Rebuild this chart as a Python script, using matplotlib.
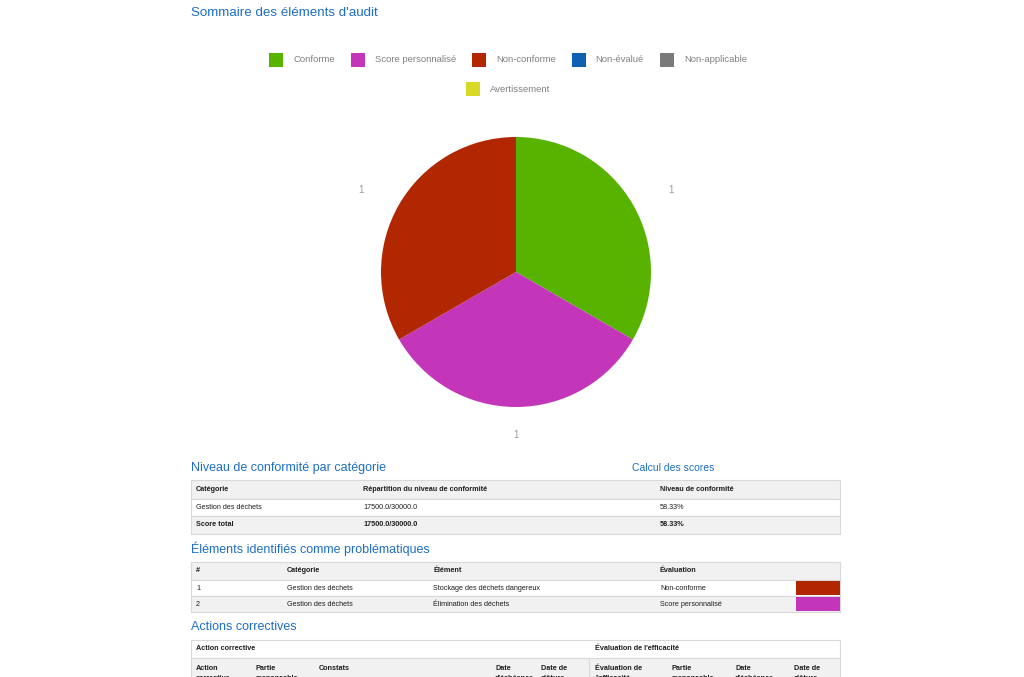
import numpy as np
import matplotlib
matplotlib.use('Agg')
import matplotlib.pyplot as plt
from matplotlib.patches import Rectangle

# --- data ---
legend_labels = ['Conforme', 'Score personnalisé', 'Non-conforme',
                 'Non-évalué', 'Non-applicable', 'Avertissement']
legend_colors = ['#57b300', '#c436b9', '#b12700', '#0f62b1', '#7a7a7a', '#d7d926']
pie_values = [1, 1, 1, 0, 0, 0]

cat_headers = ['Catégorie', 'Répartition du niveau de conformité', 'Niveau de conformité']
cat_rows = [['Gestion des déchets', '17500.0/30000.0', '58.33%']]
cat_total = ['Score total', '17500.0/30000.0', '58.33%']

issue_headers = ['#', 'Catégorie', 'Élément', 'Évaluation']
issue_rows = [
    ['1', 'Gestion des déchets', 'Stockage des déchets dangereux', 'Non-conforme'],
    ['2', 'Gestion des déchets', 'Élimination des déchets', 'Score personnalisé'],
]

action_groups = ['Action corrective', "Évaluation de l'efficacité"]
action_columns = ['Action\ncorrective', 'Partie\nresponsable', 'Constats', "Date\nd'échéance",
                  'Date de\nclôture', "Évaluation de\nl'efficacité", 'Partie\nresponsable',
                  "Date\nd'échéance", 'Date de\nclôture']

# --- styles ---
BLUE = '#1d6ec6'
BORDER = '#d9d9d9'
HEAD_BG = '#f1f1f1'
TXT = '#1e1e1e'
SANS = ['Liberation Sans', 'DejaVu Sans']
TS = 5.2  # table text size

W, H = 1024, 677
fig = plt.figure(figsize=(W / 100, H / 100), dpi=100)
fig.patch.set_facecolor('white')
ax = fig.add_axes([0, 0, 1, 1])
ax.set_xlim(0, W)
ax.set_ylim(H, 0)
ax.axis('off')

ax.text(191, 13, 'Sommaire des éléments d\'audit', color=BLUE, fontsize=9.6,
        family=SANS, va='center', ha='left')

# --- legend (two centred rows, like the web chart) ---
fig.canvas.draw()
renderer = fig.canvas.get_renderer()


def text_width(s, size, family):
    t = ax.text(0, 0, s, fontsize=size, family=family)
    bb = t.get_window_extent(renderer)
    t.remove()
    return bb.width


rows = [list(range(5)), [5]]
sq, gap_txt, gap_item = 14, 10, 16
for r, idxs in enumerate(rows):
    y = 60 + r * 29
    widths = [sq + gap_txt + text_width(legend_labels[i], 6.8, SANS) for i in idxs]
    total = sum(widths) + gap_item * (len(idxs) - 1)
    x = 508 - total / 2
    for i, w in zip(idxs, widths):
        ax.add_patch(Rectangle((x, y - sq / 2), sq, sq, facecolor=legend_colors[i],
                               edgecolor='none'))
        ax.text(x + sq + gap_txt, y, legend_labels[i], fontsize=6.8, family=SANS,
                color='#808080', va='center', ha='left')
        x += w + gap_item

# --- pie ---
cx, cy, rad = 516, 272, 135
pax = fig.add_axes([(cx - rad) / W, (H - cy - rad) / H, 2 * rad / W, 2 * rad / H])
shown = [i for i, v in enumerate(pie_values) if v > 0]
wedges, _ = pax.pie([pie_values[i] for i in shown],
                    colors=[legend_colors[i] for i in shown],
                    startangle=90, counterclock=False, radius=1,
                    wedgeprops=dict(linewidth=0))
# value labels sit on a slightly wider ellipse than the pie, as in the web chart
for w, i in zip(wedges, shown):
    a = np.deg2rad((w.theta1 + w.theta2) / 2)
    pax.text(1.33 * np.cos(a), 1.21 * np.sin(a), str(pie_values[i]), color='#9a9a9a',
             fontsize=7, family=SANS, ha='center', va='center', clip_on=False)
pax.set_xlim(-1, 1)
pax.set_ylim(-1, 1)
pax.set_aspect('equal')
pax.axis('off')


# --- table helpers ---
def row_box(x0, x1, y0, y1, bg):
    ax.add_patch(Rectangle((x0, y0), x1 - x0, y1 - y0, facecolor=bg,
                           edgecolor=BORDER, linewidth=0.8))


def cell(x, y, s, bold=False):
    ax.text(x, y, s, fontsize=TS, family=SANS, color=TXT, va='center', ha='left',
            fontweight='bold' if bold else 'normal')


L, R = 191, 840

# section 1
ax.text(191, 468, 'Niveau de conformité par catégorie', color=BLUE, fontsize=9,
        family=SANS, va='center')
ax.text(632, 468, 'Calcul des scores', color=BLUE, fontsize=7.5, family=SANS, va='center')
cat_x = [196, 363, 660]
edges = [480, 499, 516, 534]
row_box(L, R, edges[0], edges[1], HEAD_BG)
for x, s in zip(cat_x, cat_headers):
    cell(x, (edges[0] + edges[1]) / 2, s, bold=True)
for k, row in enumerate(cat_rows):
    row_box(L, R, edges[1 + k], edges[2 + k], 'white')
    for x, s in zip(cat_x, row):
        cell(x, (edges[1 + k] + edges[2 + k]) / 2, s)
row_box(L, R, edges[-2], edges[-1], HEAD_BG)
for x, s in zip(cat_x, cat_total):
    cell(x, (edges[-2] + edges[-1]) / 2, s, bold=True)

# section 2
ax.text(191, 549, 'Éléments identifiés comme problématiques', color=BLUE, fontsize=9,
        family=SANS, va='center')
iss_x = [196, 287, 433, 660]
edges = [562, 580, 596, 612]
row_box(L, R, edges[0], edges[1], HEAD_BG)
for x, s in zip(iss_x, issue_headers):
    cell(x, (edges[0] + edges[1]) / 2, s, bold=True)
color_of = dict(zip(legend_labels, legend_colors))
for k, row in enumerate(issue_rows):
    y0, y1 = edges[1 + k], edges[2 + k]
    row_box(L, R, y0, y1, 'white' if k % 2 == 0 else HEAD_BG)
    for x, s in zip(iss_x, row):
        cell(x, (y0 + y1) / 2, s)
    ax.add_patch(Rectangle((796, y0 + 0.8), R - 796, y1 - y0 - 1.6,
                           facecolor=color_of[row[3]], edgecolor='none'))

# section 3 (the page is cut off just below its column headers)
ax.text(191, 627, 'Actions correctives', color=BLUE, fontsize=9, family=SANS, va='center')
row_box(L, R, 640, 658, 'white')
cell(196, 649, action_groups[0], bold=True)
cell(595, 649, action_groups[1], bold=True)
row_box(L, R, 658, 700, HEAD_BG)
ax.plot([589, 589], [658, 700], color=BORDER, linewidth=0.8)
act_x = [196, 255, 319, 495, 541, 595, 671, 735, 794]
for x, s in zip(act_x, action_columns):
    ax.text(x, 664.5, s, fontsize=TS, family=SANS, color=TXT, va='top', ha='left',
            fontweight='bold', linespacing=1.75)

fig.savefig('out.png', dpi=100, facecolor='white')
